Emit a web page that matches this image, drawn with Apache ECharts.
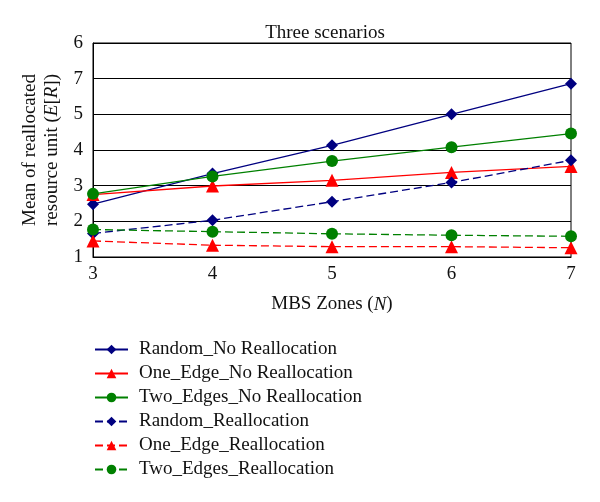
<!DOCTYPE html>
<html><head><meta charset="utf-8">
<script src="https://cdn.jsdelivr.net/npm/echarts@6/dist/echarts.min.js"></script>
<style>html,body{margin:0;padding:0;background:#fff}#c{width:600px;height:502px}</style>
</head><body><div id="c"></div>
<script>
const zones = [3, 4, 5, 6, 7];
const yTickLabels = {1:'1',2:'2',3:'3',4:'4',5:'5',6:'7',7:'6'};
const randomNo = [2.48, 3.34, 4.13, 5.0, 5.86];
const oneEdgeNo = [2.75, 2.99, 3.15, 3.37, 3.54];
const twoEdgesNo = [2.77, 3.26, 3.69, 4.08, 4.46];
const randomRe = [1.66, 2.03, 2.55, 3.09, 3.71];
const oneEdgeRe = [1.45, 1.33, 1.29, 1.29, 1.26];
const twoEdgesRe = [1.77, 1.71, 1.65, 1.61, 1.58];
const names = ['Random_No Reallocation','One_Edge_No Reallocation','Two_Edges_No Reallocation','Random_Reallocation','One_Edge_Reallocation','Two_Edges_Reallocation'];

const font = 'Liberation Serif';
const fs = 19;
function mk(name, data, color, symbol, size, dashed) {
  return {
    name, type: 'line', data: zones.map((z, i) => [z, data[i]]),
    symbol, symbolSize: size, showSymbol: true,
    lineStyle: {color, width: 1.3, type: dashed ? [8, 4] : 'solid'},
    itemStyle: {color},
    emphasis: {disabled: true}, animation: false
  };
}
const chart = echarts.init(document.getElementById('c'));
chart.setOption({
  animation: false,
  title: {text: 'Three scenarios', left: 320, top: 19, textAlign: 'center',
    textStyle: {fontFamily: font, fontWeight: 'normal', fontSize: fs, color: '#111'}},
  grid: {left: 93, right: 29, top: 43, bottom: 245, show: true, borderColor: '#000', borderWidth: 1},
  xAxis: {type: 'value', min: 3, max: 7, interval: 1,
    name: 'MBS Zones ({i|N})', nameLocation: 'middle', nameGap: 38,
    nameTextStyle: {fontFamily: font, fontSize: fs, color: '#111', rich: {i: {fontStyle: 'italic', fontFamily: font, fontSize: fs}}},
    axisLine: {lineStyle: {color: '#000'}}, axisTick: {show: false},
    axisLabel: {fontFamily: font, fontSize: fs, color: '#111', margin: 8},
    splitLine: {show: false}},
  yAxis: {type: 'value', min: 1, max: 7, interval: 1,
    name: 'Mean of reallocated\nresource unit ({i|E}[{i|R}])', nameLocation: 'middle', nameGap: 30,
    nameTextStyle: {fontFamily: font, fontSize: fs, color: '#111', lineHeight: 22,
      rich: {i: {fontStyle: 'italic', fontFamily: font, fontSize: fs, lineHeight: 22}}},
    axisLine: {lineStyle: {color: '#000'}}, axisTick: {show: false},
    axisLabel: {fontFamily: font, fontSize: fs, color: '#111', margin: 10, formatter: v => yTickLabels[v]},
    splitLine: {lineStyle: {color: '#000', width: 1}}},
  legend: {orient: 'vertical', left: 89, top: 335, itemGap: 5, itemWidth: 33, itemHeight: 12,
    textStyle: {fontFamily: font, fontSize: fs, color: '#111', padding: [0, 0, 0, 6]}, data: names},
  series: [
    mk(names[0], randomNo, '#000080', 'diamond', 12, false),
    mk(names[1], oneEdgeNo, '#ff0000', 'triangle', 13, false),
    mk(names[2], twoEdgesNo, '#008000', 'circle', 12, false),
    mk(names[3], randomRe, '#000080', 'diamond', 12, true),
    mk(names[4], oneEdgeRe, '#ff0000', 'triangle', 13, true),
    mk(names[5], twoEdgesRe, '#008000', 'circle', 12, true)
  ]
});
</script></body></html>
